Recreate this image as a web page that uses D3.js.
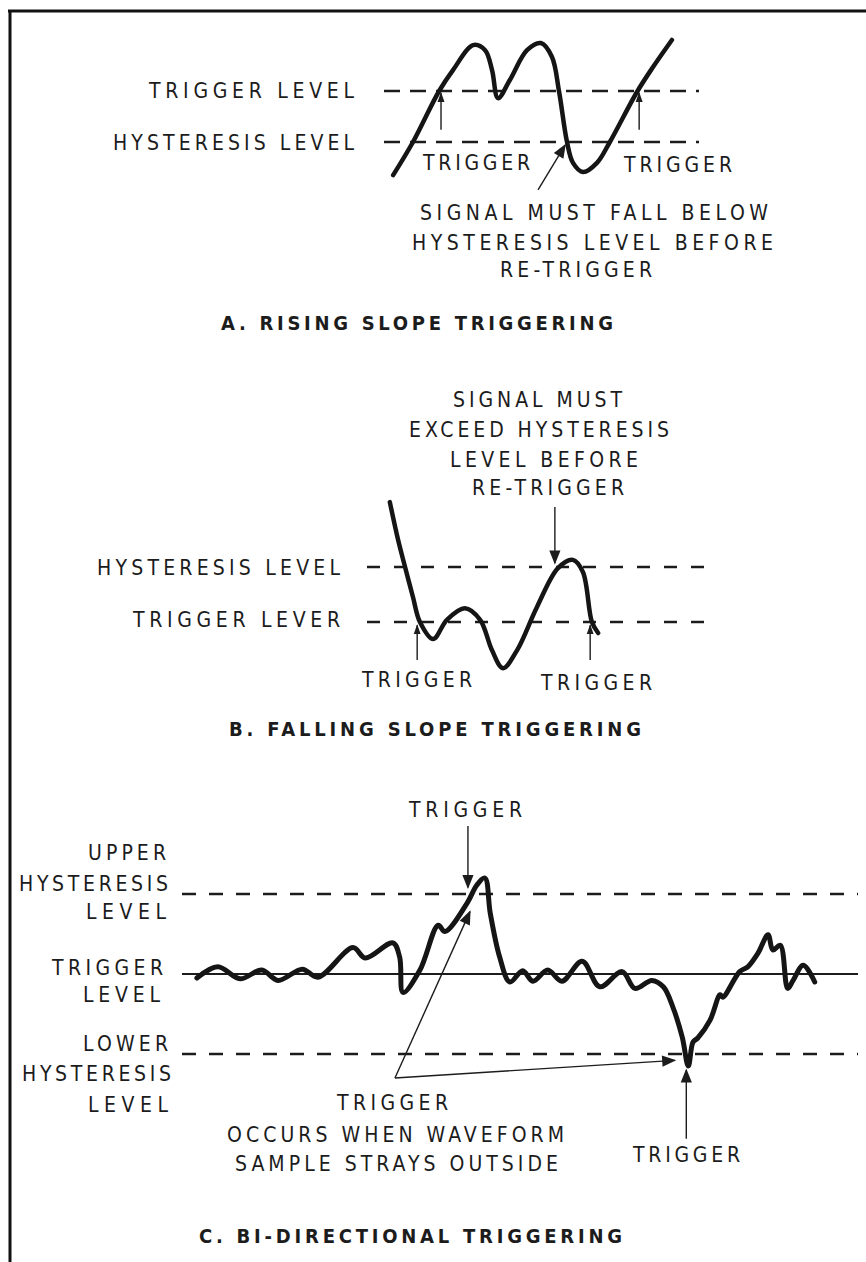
<!DOCTYPE html>
<html>
<head>
<meta charset="utf-8">
<title>Trigger hysteresis</title>
<script src="https://d3js.org/d3.v7.min.js"></script>
<style>
  body { margin: 0; background: #fff; }
  svg text { font-family: "DejaVu Sans Condensed", "Liberation Sans", Arial, sans-serif; font-size: 21px; fill: #1c1c1c; }
  svg text.title { font-weight: bold; font-size: 20px; }
</style>
</head>
<body>
<div id="chart"></div>
<script>
// ---- data (x = time units 0..100, y = level units) ----
// A. rising slope: hysteresis level = 0, trigger level = 1
const risingLevels = [1, 0]
const risingT = [2.9, 9.2, 17.5, 21.9, 28.3, 32.1, 34.3, 36.2, 40, 45.4, 49.8, 53.3, 55.6, 58.1, 60, 63.2, 67.6, 71.7, 80.3, 85.4, 91.4]
const risingV = [-0.65, 0, 1, 1.41, 1.9, 1.8, 1.41, 0.86, 1.22, 1.8, 1.94, 1.67, 0.98, 0, -0.41, -0.59, -0.41, 0, 0.98, 1.47, 2.0]
const risingLabels = ['TRIGGER LEVEL', 'HYSTERESIS LEVEL', 'TRIGGER', 'TRIGGER',
    'SIGNAL MUST FALL BELOW', 'HYSTERESIS LEVEL BEFORE', 'RE-TRIGGER']
const risingTitle = 'A.  RISING SLOPE TRIGGERING'
// arrows: [t0, v0, t1, v1]
const risingArrows = [[18.1, 0.24, 18.1, 0.96], [81, 0.24, 81, 0.96], [48.9, -0.94, 57.5, -0.06]]

// B. falling slope: trigger level = 0, hysteresis level = 1
const fallingLevels = [1, 0]
const fallingT = [6.6, 9.0, 11.0, 13.3, 15.3, 19.1, 23.1, 28.3, 32.7, 36.1, 39.3, 43.4, 49.1, 55.2, 59.5, 62.4, 65, 66.8]
const fallingV = [2.18, 1.49, 1.0, 0.45, 0, -0.31, 0.04, 0.25, 0.04, -0.51, -0.84, -0.51, 0.27, 0.98, 1.13, 0.91, 0, -0.2]
const fallingLabels = ['SIGNAL MUST', 'EXCEED HYSTERESIS', 'LEVEL BEFORE', 'RE-TRIGGER',
    'HYSTERESIS LEVEL', 'TRIGGER LEVER', 'TRIGGER', 'TRIGGER']
const fallingTitle = 'B.  FALLING SLOPE TRIGGERING'
const fallingArrows = [[14.5, -0.69, 14.5, -0.06], [64.5, -0.69, 64.5, -0.06], [54.3, 2.09, 54.3, 1.07]]

// C. bi-directional: trigger level = 0, upper = +1, lower = -1
const bidirLevels = [1, -1]
const bidirTrigger = 0
const bidirT = [2.2, 5.3, 8.6, 11.8, 14.2, 17.8, 20.1, 25.3, 27.1, 31.2, 32.2, 32.7, 35.2, 37.9, 38.9, 42.2, 43.6, 44.8,
    45.6, 47.0, 48.5, 50.4, 51.9, 54.1, 56.2, 59.2, 61.8, 65.1, 67.0, 69.5, 71.2, 72.6, 74.0, 74.9, 75.6, 76.3,
    78.1, 79.6, 80.0, 82.5, 83.7, 85.2, 86.7, 87.4, 88.5, 89.6, 90.4, 91.9, 93.6]
const bidirV = [-0.05, 0.09, -0.06, 0.05, -0.08, 0.06, -0.04, 0.33, 0.2, 0.39, 0.21, -0.23, 0.05, 0.61, 0.53, 0.89, 1.11, 1.2,
    0.76, 0.21, -0.1, 0.04, -0.09, 0.05, -0.09, 0.16, -0.16, 0.03, -0.18, -0.08, -0.16, -0.41, -0.79, -1.15, -0.85, -0.8,
    -0.58, -0.26, -0.29, 0.03, 0.09, 0.26, 0.49, 0.3, 0.36, -0.18, -0.08, 0.11, -0.1]
const bidirLabels = ['TRIGGER', 'UPPER', 'HYSTERESIS', 'LEVEL', 'TRIGGER', 'LEVEL', 'LOWER', 'HYSTERESIS', 'LEVEL',
    'TRIGGER', 'OCCURS WHEN WAVEFORM', 'SAMPLE STRAYS OUTSIDE', 'TRIGGER']
const bidirTitle = 'C.  BI-DIRECTIONAL TRIGGERING'
const bidirArrows = [[42.3, 1.85, 42.3, 1.08], [74.6, -2.06, 74.6, -1.2], [31.5, -1.3, 42.6, 0.78], [31.5, -1.3, 72.9, -1.08]]

// ---- layout ----
const W = 866, H = 1262
// label boxes [x0, x1, baseline]
const risingLabelPos = [[149, 354, 98], [113, 354, 150], [423, 530, 170], [624, 732, 172],
    [420, 768, 220], [412, 773, 250], [500, 652, 277]]
const risingTitlePos = [221, 613, 330]
const fallingLabelPos = [[453, 622, 407], [409, 669, 437], [450, 638, 467], [472, 624, 495],
    [97, 340, 575], [133, 340, 627], [362, 472, 687], [541, 652, 690]]
const fallingTitlePos = [229, 641, 736]
const bidirLabelPos = [[409, 522, 817], [88, 166, 860], [19, 168, 891], [86, 166, 919], [52, 163, 975], [83, 160, 1002],
    [83, 168, 1051], [22, 171, 1081], [88, 168, 1112], [337, 448, 1110], [227, 564, 1142], [235, 558, 1171], [633, 740, 1162]]
const bidirTitlePos = [199, 622, 1243]

const svg = d3.select('#chart').append('svg')
    .attr('width', W)
    .attr('height', H)

const defs = svg.append('defs')
defs.append('marker')
    .attr('id', 'head')
    .attr('viewBox', '0 0 10 10')
    .attr('refX', 9).attr('refY', 5)
    .attr('markerWidth', 10).attr('markerHeight', 10)
    .attr('markerUnits', 'userSpaceOnUse')
    .attr('orient', 'auto')
    .append('path').attr('d', 'M0,1.5 L10,5 L0,8.5 Z').attr('fill', '#1c1c1c')
defs.append('marker')
    .attr('id', 'headBig')
    .attr('viewBox', '0 0 10 10')
    .attr('refX', 9).attr('refY', 5)
    .attr('markerWidth', 15).attr('markerHeight', 14)
    .attr('markerUnits', 'userSpaceOnUse')
    .attr('orient', 'auto')
    .append('path').attr('d', 'M0,1 L10,5 L0,9 Z').attr('fill', '#1c1c1c')

// frame
svg.append('line').attr('x1', 8).attr('y1', 11).attr('x2', W).attr('y2', 11)
    .style('stroke', '#111').style('stroke-width', 3)
svg.append('line').attr('x1', 10).attr('y1', 10).attr('x2', 10).attr('y2', H)
    .style('stroke', '#111').style('stroke-width', 3)

function drawPanel(cfg) {
    const g = svg.append('g')
    const x = d3.scaleLinear().domain([0, 100]).range(cfg.xRange)
    const y = d3.scaleLinear().domain(cfg.yDomain).range(cfg.yRange)

    cfg.levels.forEach(lv => {
        g.append('line')
            .attr('x1', x(0)).attr('x2', x(100))
            .attr('y1', y(lv)).attr('y2', y(lv))
            .style('stroke', '#1c1c1c')
            .style('stroke-width', 2.5)
            .style('stroke-dasharray', cfg.dash)
    })
    if (cfg.solid !== undefined) {
        g.append('line')
            .attr('x1', x(0)).attr('x2', x(100))
            .attr('y1', y(cfg.solid)).attr('y2', y(cfg.solid))
            .style('stroke', '#1c1c1c')
            .style('stroke-width', 2)
    }

    const pts = cfg.t.map((t, i) => [t, cfg.v[i]])
    const line = d3.line()
        .x(d => x(d[0]))
        .y(d => y(d[1]))
        .curve(d3.curveCatmullRom.alpha(0.5))
    g.append('path')
        .datum(pts)
        .attr('d', line)
        .style('fill', 'none')
        .style('stroke', '#151515')
        .style('stroke-width', cfg.width)
        .style('stroke-linecap', 'round')
        .style('stroke-linejoin', 'round')

    cfg.arrows.forEach((a, i) => {
        const big = cfg.bigArrows.includes(i)
        g.append('line')
            .attr('x1', x(a[0])).attr('y1', y(a[1]))
            .attr('x2', x(a[2])).attr('y2', y(a[3]))
            .style('stroke', '#1c1c1c')
            .style('stroke-width', 1.4)
            .attr('marker-end', big ? 'url(#headBig)' : 'url(#head)')
    })

    cfg.labels.forEach((txt, i) => {
        const p = cfg.labelPos[i]
        g.append('text')
            .attr('x', p[0]).attr('y', p[2])
            .attr('textLength', p[1] - p[0])
            .attr('lengthAdjust', 'spacing')
            .text(txt)
    })
    const tp = cfg.titlePos
    g.append('text')
        .attr('class', 'title')
        .attr('x', tp[0]).attr('y', tp[2])
        .attr('textLength', tp[1] - tp[0])
        .attr('lengthAdjust', 'spacing')
        .text(cfg.title)
}

drawPanel({
    xRange: [384, 699], yDomain: [0, 1], yRange: [142, 91],
    levels: risingLevels, dash: '16 10', t: risingT, v: risingV, width: 4.5,
    arrows: risingArrows, bigArrows: [2],
    labels: risingLabels, labelPos: risingLabelPos, title: risingTitle, titlePos: risingTitlePos
})

drawPanel({
    xRange: [367, 713], yDomain: [0, 1], yRange: [622, 567],
    levels: fallingLevels, dash: '13 14', t: fallingT, v: fallingV, width: 4.5,
    arrows: fallingArrows, bigArrows: [2],
    labels: fallingLabels, labelPos: fallingLabelPos, title: fallingTitle, titlePos: fallingTitlePos
})

drawPanel({
    xRange: [182, 858], yDomain: [-1, 1], yRange: [1054, 894],
    levels: bidirLevels, solid: bidirTrigger, dash: '14 13', t: bidirT, v: bidirV, width: 5,
    arrows: bidirArrows, bigArrows: [0, 1, 2, 3],
    labels: bidirLabels, labelPos: bidirLabelPos, title: bidirTitle, titlePos: bidirTitlePos
})
</script>
</body>
</html>
